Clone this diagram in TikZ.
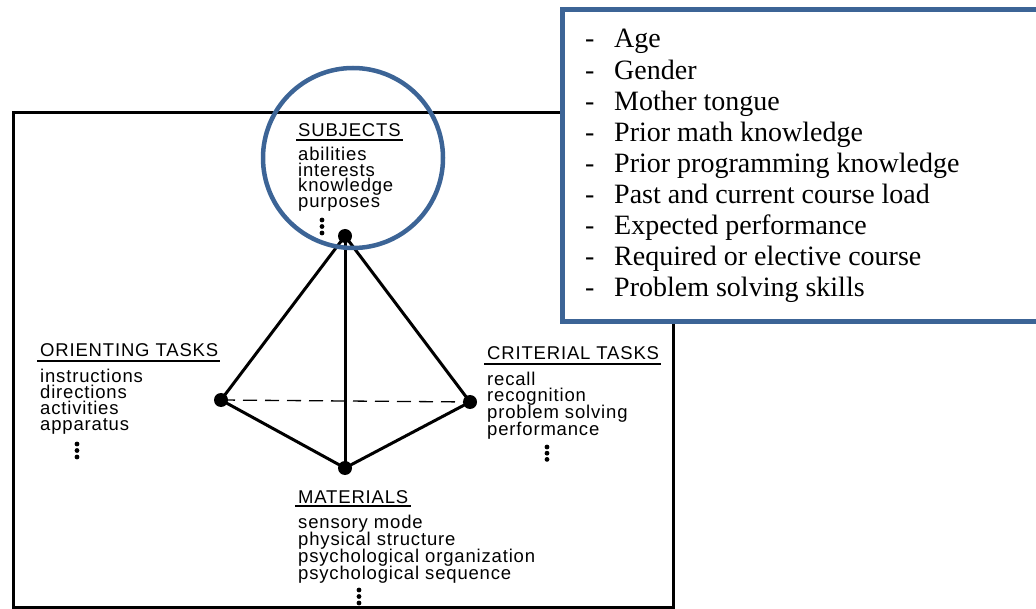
\documentclass[tikz,border=0pt]{standalone}
\usepackage{fontspec}
\setmainfont{Liberation Serif}
\newfontfamily\diagfont[LetterSpace=4.5]{Liberation Sans}
\usetikzlibrary{calc}
\definecolor{frameblue}{RGB}{60,100,150}

\begin{document}
\begin{tikzpicture}[x=1pt,y=-1pt,
  vertex/.style={circle,fill=black,inner sep=0pt,minimum size=14pt},
  edge/.style={line width=3pt},
  hidden edge/.style={line width=1.3pt,dash pattern=on 14pt off 8pt},
  header/.style={anchor=base west,inner sep=0pt,font=\diagfont\fontsize{18.5}{18.5}\selectfont},
  entry/.style={anchor=base west,inner sep=0pt,font=\diagfont\fontsize{18.5}{18.5}\selectfont},
  headrule/.style={line width=1.4pt},
  note/.style={anchor=base west,inner sep=0pt,font=\fontsize{28}{28}\selectfont},
  dot/.style={fill=black},
]
\useasboundingbox (0,0) rectangle (1036,609);

% outer frame of the tetrahedral model
\draw[line width=3pt] (13,113) rectangle (673,607);

% vertices
\node[vertex] (S) at (345,236) {};
\node[vertex] (O) at (221,400) {};
\node[vertex] (C) at (470,402) {};
\node[vertex] (M) at (345,468) {};

% edges
\draw[edge] (S.center) -- (O.center);
\draw[edge] (S.center) -- (C.center);
\draw[edge] (S.center) -- (M.center);
\draw[edge] (O.center) -- (M.center);
\draw[edge] (C.center) -- (M.center);
\draw[hidden edge] (O.center) -- (C.center);

% SUBJECTS
\node[header] (hS) at (298,137) {SUBJECTS};
\draw[headrule] ($(hS.base west)+(-2,3)$) -- ($(hS.base east)+(2,3)$);
\foreach \t [count=\i from 0] in {abilities,interests,knowledge,purposes}
  \node[entry] (s\i) at (298,161+\i*15.4) {\t};
\foreach \d in {0,1,2} \fill[dot] (322,220+\d*6.5) circle (2.4pt);

% ORIENTING TASKS
\node[header] (hO) at (40,357) {ORIENTING TASKS};
\draw[headrule] ($(hO.base west)+(-3,4)$) -- ($(hO.base east)+(2,4)$);
\foreach \t [count=\i from 0] in {instructions,directions,activities,apparatus}
  \node[entry] (o\i) at (40,383+\i*15.7) {\t};
\foreach \d in {0,1,2} \fill[dot] (77,444+\d*6.5) circle (2.4pt);

% CRITERIAL TASKS
\node[header] (hC) at (487,360) {CRITERIAL TASKS};
\draw[headrule] ($(hC.base west)+(-3,4)$) -- ($(hC.base east)+(2,4)$);
\foreach \t [count=\i from 0] in {recall,recognition,problem solving,performance}
  \node[entry] (c\i) at (487,385+\i*16.7) {\t};
\foreach \d in {0,1,2} \fill[dot] (547,447+\d*6.2) circle (2.4pt);

% MATERIALS
\node[header] (hM) at (298,503) {MATERIALS};
\draw[headrule] ($(hM.base west)+(-3,3)$) -- ($(hM.base east)+(2,3)$);
\foreach \t [count=\i from 0] in {sensory mode,physical structure,psychological organization,psychological sequence}
  \node[entry] (m\i) at (298,528+\i*17) {\t};
\foreach \d in {0,1,2} \fill[dot] (359,590+\d*6.5) circle (2.4pt);

% highlight around the subjects vertex
\draw[frameblue,line width=4.5pt] (353,158) circle (90pt);

% box listing subject characteristics
\draw[frameblue,line width=5pt,fill=white] (562,10) rectangle (1060,321.5);
\foreach \t [count=\i from 0] in {Age,Gender,Mother tongue,Prior math knowledge,Prior programming knowledge,Past and current course load,Expected performance,Required or elective course,Problem solving skills}{
  \node[note] (d\i) at (585,48+\i*31.1) {-};
  \node[note] (n\i) at (614,48+\i*31.1) {\t};
}
\end{tikzpicture}
\end{document}
